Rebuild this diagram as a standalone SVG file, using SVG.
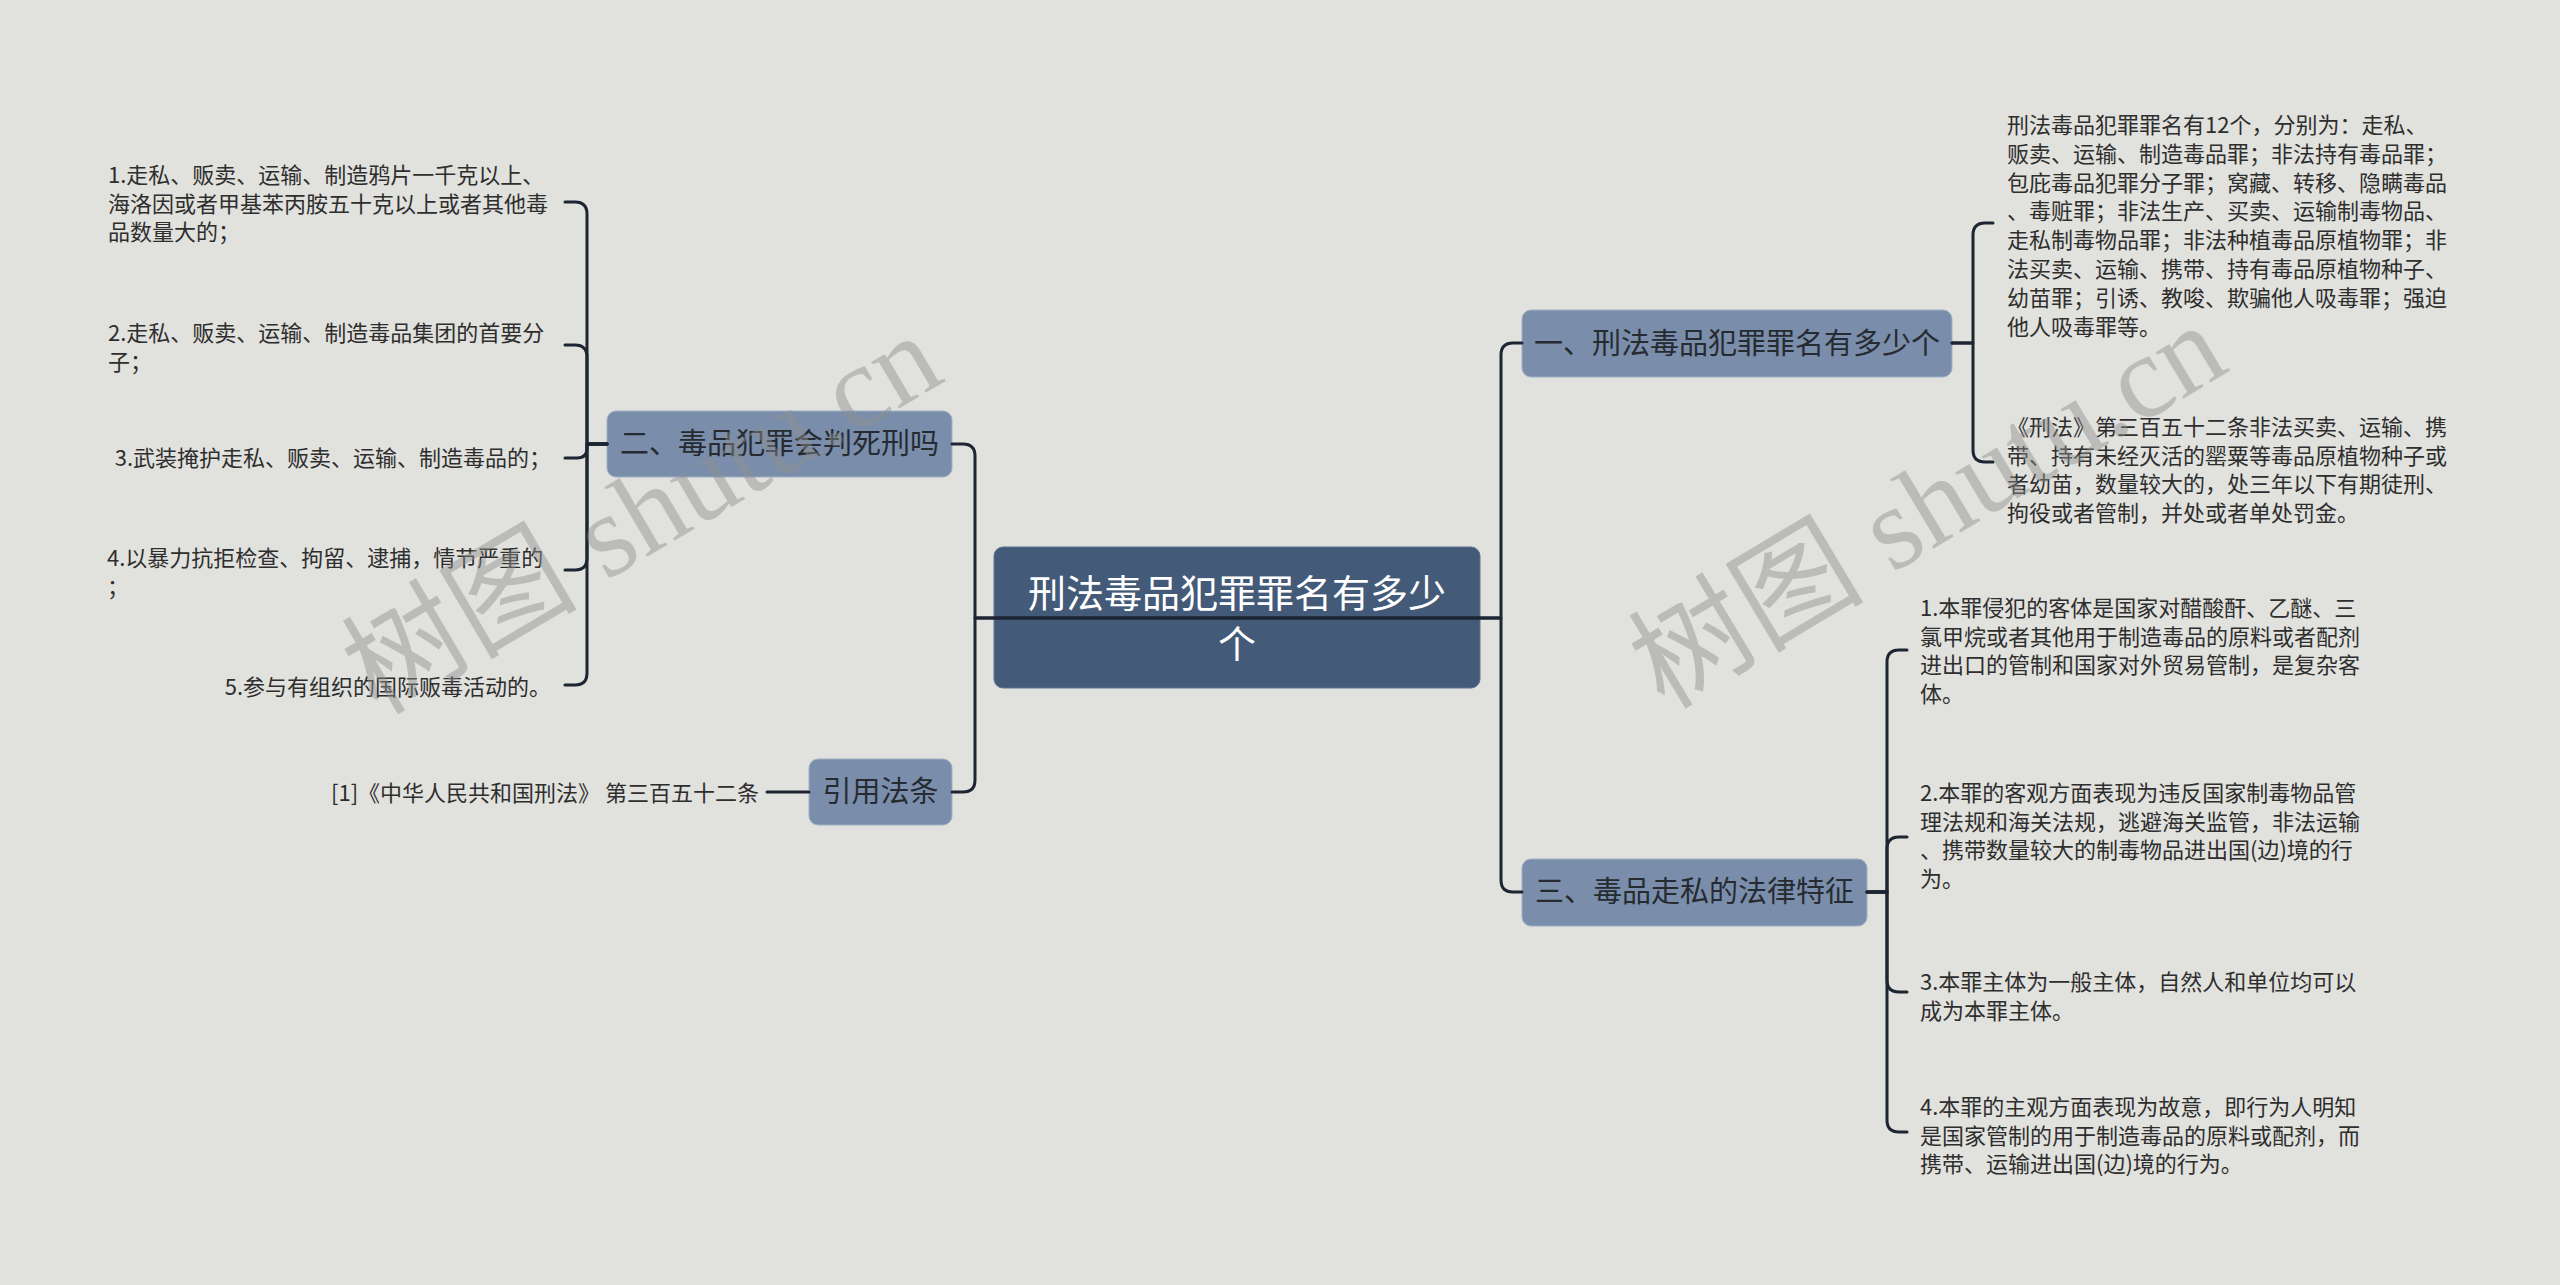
<svg xmlns="http://www.w3.org/2000/svg" width="2560" height="1285" viewBox="0 0 2560 1285">
<style>
.bg{fill:#e1e1dd}
.root{fill:#435a78;stroke:#5d7290;stroke-width:1}
.l1{fill:#7a8eab;stroke:#9fb0c6;stroke-width:1}
.rt{font-family:"Noto Sans CJK SC","Noto Sans",sans-serif;font-size:38px;fill:#ffffff;text-anchor:middle}
.t1{font-family:"Noto Sans CJK SC","Noto Sans",sans-serif;font-size:29px;fill:#262b31;text-anchor:middle}
.t2{font-family:"Noto Sans CJK SC","Noto Sans",sans-serif;font-size:22px;fill:#2e2e2e}
.end{text-anchor:end}
.c{fill:none;stroke:#1c2532;stroke-width:3;stroke-linecap:round;stroke-linejoin:round}
.wm{font-family:"Liberation Serif","Noto Sans CJK SC",serif;font-size:118px;fill:#8f8f8f;opacity:0.45;text-anchor:middle}
</style>
<rect class="bg" x="0" y="0" width="2560" height="1285"/>

<g id="nodes">
  <g id="root">
    <rect class="root" x="994" y="547" width="486" height="141" rx="9"/>
    <text class="rt" x="1237" y="607">刑法毒品犯罪罪名有多少</text>
    <text class="rt" x="1237" y="658">个</text>
  </g>
  <g id="n1">
    <rect class="l1" x="1522" y="310" width="430" height="67" rx="9"/>
    <text class="t1" x="1737" y="354">一、刑法毒品犯罪罪名有多少个</text>
  </g>
  <g id="n2">
    <rect class="l1" x="607" y="411" width="345" height="66" rx="9"/>
    <text class="t1" x="779.5" y="454">二、毒品犯罪会判死刑吗</text>
  </g>
  <g id="n3">
    <rect class="l1" x="1522" y="859" width="345" height="67" rx="9"/>
    <text class="t1" x="1694.5" y="902">三、毒品走私的法律特征</text>
  </g>
  <g id="n4">
    <rect class="l1" x="809" y="759" width="143" height="66" rx="9"/>
    <text class="t1" x="880.5" y="802">引用法条</text>
  </g>

  <g id="n1a">
    <text class="t2" x="2007" y="133">刑法毒品犯罪罪名有12个，分别为：走私、</text>
    <text class="t2" x="2007" y="161.8">贩卖、运输、制造毒品罪；非法持有毒品罪；</text>
    <text class="t2" x="2007" y="190.6">包庇毒品犯罪分子罪；窝藏、转移、隐瞒毒品</text>
    <text class="t2" x="2007" y="219.4">、毒赃罪；非法生产、买卖、运输制毒物品、</text>
    <text class="t2" x="2007" y="248.2">走私制毒物品罪；非法种植毒品原植物罪；非</text>
    <text class="t2" x="2007" y="277">法买卖、运输、携带、持有毒品原植物种子、</text>
    <text class="t2" x="2007" y="305.8">幼苗罪；引诱、教唆、欺骗他人吸毒罪；强迫</text>
    <text class="t2" x="2007" y="334.6">他人吸毒罪等。</text>
  </g>
  <g id="n1b">
    <text class="t2" x="2007" y="435">《刑法》第三百五十二条非法买卖、运输、携</text>
    <text class="t2" x="2007" y="463.5">带、持有未经灭活的罂粟等毒品原植物种子或</text>
    <text class="t2" x="2007" y="492">者幼苗，数量较大的，处三年以下有期徒刑、</text>
    <text class="t2" x="2007" y="520.5">拘役或者管制，并处或者单处罚金。</text>
  </g>

  <g id="n2a">
    <text class="t2" x="108" y="183">1.走私、贩卖、运输、制造鸦片一千克以上、</text>
    <text class="t2" x="108" y="211.6">海洛因或者甲基苯丙胺五十克以上或者其他毒</text>
    <text class="t2" x="108" y="240.2">品数量大的；</text>
  </g>
  <g id="n2b">
    <text class="t2" x="108" y="341">2.走私、贩卖、运输、制造毒品集团的首要分</text>
    <text class="t2" x="108" y="369.6">子；</text>
  </g>
  <g id="n2c">
    <text class="t2 end" x="551" y="466">3.武装掩护走私、贩卖、运输、制造毒品的；</text>
  </g>
  <g id="n2d">
    <text class="t2" x="107" y="566">4.以暴力抗拒检查、拘留、逮捕，情节严重的</text>
    <text class="t2" x="107" y="594.6">；</text>
  </g>
  <g id="n2e">
    <text class="t2 end" x="551" y="695">5.参与有组织的国际贩毒活动的。</text>
  </g>

  <g id="n3a">
    <text class="t2" x="1920" y="616">1.本罪侵犯的客体是国家对醋酸酐、乙醚、三</text>
    <text class="t2" x="1920" y="644.6">氯甲烷或者其他用于制造毒品的原料或者配剂</text>
    <text class="t2" x="1920" y="673.2">进出口的管制和国家对外贸易管制，是复杂客</text>
    <text class="t2" x="1920" y="701.8">体。</text>
  </g>
  <g id="n3b">
    <text class="t2" x="1920" y="801">2.本罪的客观方面表现为违反国家制毒物品管</text>
    <text class="t2" x="1920" y="829.6">理法规和海关法规，逃避海关监管，非法运输</text>
    <text class="t2" x="1920" y="858.2">、携带数量较大的制毒物品进出国(边)境的行</text>
    <text class="t2" x="1920" y="886.8">为。</text>
  </g>
  <g id="n3c">
    <text class="t2" x="1920" y="990">3.本罪主体为一般主体，自然人和单位均可以</text>
    <text class="t2" x="1920" y="1018.6">成为本罪主体。</text>
  </g>
  <g id="n3d">
    <text class="t2" x="1920" y="1115">4.本罪的主观方面表现为故意，即行为人明知</text>
    <text class="t2" x="1920" y="1143.6">是国家管制的用于制造毒品的原料或配剂，而</text>
    <text class="t2" x="1920" y="1172.2">携带、运输进出国(边)境的行为。</text>
  </g>

  <g id="n4a">
    <text class="t2 end" x="759" y="801">[1]《中华人民共和国刑法》 第三百五十二条</text>
  </g>
</g>

<g id="connectors">
  <path class="c" d="M1237,618 H1501 V355 Q1501,343 1513,343 H1522"/>
  <path class="c" d="M1237,618 H1501 V880 Q1501,892 1513,892 H1522"/>
  <path class="c" d="M1237,618 H975 V456 Q975,444 963,444 H952"/>
  <path class="c" d="M1237,618 H975 V780 Q975,792 963,792 H952"/>

  <path class="c" d="M1952,343 H1973 V235 Q1973,223 1985,223 H1993"/>
  <path class="c" d="M1952,343 H1973 V450 Q1973,462 1985,462 H1993"/>

  <path class="c" d="M607,444 H587 V214 Q587,202 575,202 H565"/>
  <path class="c" d="M607,444 H587 V357 Q587,345 575,345 H565"/>
  <path class="c" d="M607,444 H587 V448 Q587,458 577,458 H565"/>
  <path class="c" d="M607,444 H587 V558 Q587,570 575,570 H565"/>
  <path class="c" d="M607,444 H587 V673 Q587,685 575,685 H565"/>

  <path class="c" d="M1867,892 H1887 V662 Q1887,650 1899,650 H1907"/>
  <path class="c" d="M1867,892 H1887 V849 Q1887,837 1899,837 H1907"/>
  <path class="c" d="M1867,892 H1887 V980 Q1887,992 1899,992 H1907"/>
  <path class="c" d="M1867,892 H1887 V1120 Q1887,1132 1899,1132 H1907"/>

  <path class="c" d="M809,792 H767"/>
</g>

<g id="watermark">
  <text class="wm" transform="translate(662,548) rotate(-30.5)">树图 shutu.cn</text>
  <text class="wm" transform="translate(1948,540) rotate(-31)">树图 shutu.cn</text>
</g>
</svg>
